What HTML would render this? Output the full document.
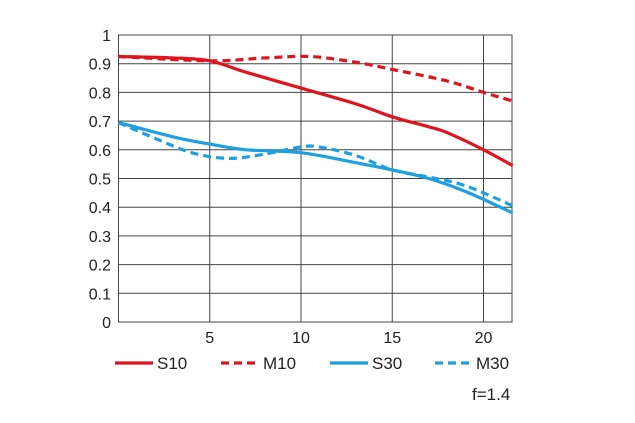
<!DOCTYPE html>
<html><head><meta charset="utf-8"><style>
html,body{margin:0;padding:0;background:#fff;}
svg{display:block;font-family:"Liberation Sans",sans-serif;}
</style></head><body>
<svg id="s" width="635" height="423" viewBox="0 0 635 423">
<g id="grid" stroke="#444" stroke-width="1" fill="none"></g>
<g id="lbl" font-size="16" fill="#222"></g>
<g id="curves" fill="none" stroke-width="3.2"></g>
<g font-size="17" fill="#222">
<line x1="115" y1="363" x2="153" y2="363" stroke="#e0141e" stroke-width="3.2"/>
<text x="157" y="369">S10</text>
<line x1="221" y1="363" x2="258" y2="363" stroke="#e0141e" stroke-width="3.2" stroke-dasharray="8,5"/>
<text x="263" y="369">M10</text>
<line x1="330" y1="363" x2="368" y2="363" stroke="#1ea0e0" stroke-width="3.2"/>
<text x="372" y="369">S30</text>
<line x1="435" y1="363" x2="472" y2="363" stroke="#1ea0e0" stroke-width="3.2" stroke-dasharray="8,5"/>
<text x="476" y="369">M30</text>
<text x="472" y="400">f=1.4</text>
</g>
</svg>
<script>
var NS="http://www.w3.org/2000/svg";
function X(v){return 118.5+18.25*v;}
function Y(m){return 322-287*m;}
var g=document.getElementById('grid'),l=document.getElementById('lbl');
function el(p,t,a){var e=document.createElementNS(NS,t);for(var k in a)e.setAttribute(k,a[k]);p.appendChild(e);return e;}
el(g,'rect',{x:118.5,y:35,width:393.5,height:287});
for(var i=1;i<10;i++)el(g,'line',{x1:118.5,x2:512,y1:Y(i/10),y2:Y(i/10)});
[5,10,15,20].forEach(function(v){el(g,'line',{x1:X(v),x2:X(v),y1:35,y2:322});
var t=el(l,'text',{x:X(v),y:343,'text-anchor':'middle'});t.textContent=v;});
for(var i=0;i<=10;i++){var t=el(l,'text',{x:111,y:Y(i/10)+6,'text-anchor':'end'});t.textContent=i==0?'0':i==10?'1':'0.'+i;}
function path(pts){var p=pts.map(function(a){return[X(a[0]),Y(a[1])]});var d='M'+p[0][0]+','+p[0][1];
for(var i=0;i<p.length-1;i++){var p0=p[i-1]||p[i],p1=p[i],p2=p[i+1],p3=p[i+2]||p2;
d+='C'+(p1[0]+(p2[0]-p0[0])/6)+','+(p1[1]+(p2[1]-p0[1])/6)+' '+(p2[0]-(p3[0]-p1[0])/6)+','+(p2[1]-(p3[1]-p1[1])/6)+' '+p2[0]+','+p2[1];}return d;}
var c=document.getElementById('curves');
var S=[
[[[0,.925],[3,.92],[5,.91],[7,.87],[10,.815],[13,.76],[15,.715],[17,.68],[18,.66],[20,.6],[21.6,.545]],'#e0141e',''],
[[[0,.925],[5,.91],[8,.92],[10.5,.925],[13,.905],[15,.88],[18,.84],[20,.8],[21.6,.77]],'#e0141e','8,5'],
[[[0,.695],[3,.645],[5,.62],[7,.6],[10,.59],[13,.555],[15,.53],[17,.5],[19,.455],[21.6,.38]],'#1ea0e0',''],
[[[0,.695],[2,.64],[4,.59],[6,.57],[8,.585],[10,.61],[11,.61],[13,.58],[15,.53],[17,.505],[19,.475],[21.6,.405]],'#1ea0e0','8,5']];
S.forEach(function(s){var a={d:path(s[0]),stroke:s[1]};if(s[2])a['stroke-dasharray']=s[2];el(c,'path',a);});
</script>
</body></html>
